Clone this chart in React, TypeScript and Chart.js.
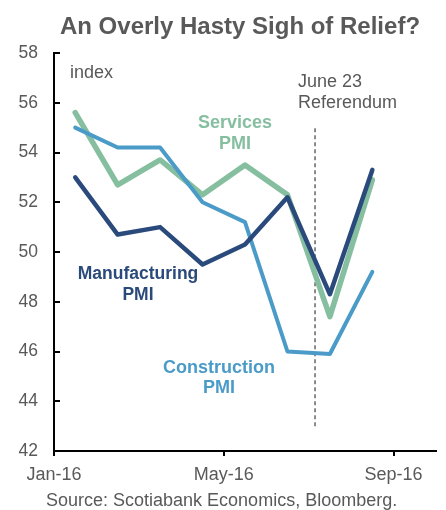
import React, { useEffect, useRef } from 'react';
import { Chart, registerables } from 'chart.js';

Chart.register(...registerables);

// ---- Data ----
const months = ['Jan-16', 'Feb-16', 'Mar-16', 'Apr-16', 'May-16', 'Jun-16', 'Jul-16', 'Aug-16'];
const manufacturing = [53.0, 50.7, 51.0, 49.5, 50.3, 52.2, 48.3, 53.3];
const services = [55.6, 52.7, 53.7, 52.3, 53.5, 52.3, 47.4, 52.9];
const construction = [55.0, 54.2, 54.2, 52.0, 51.2, 46.0, 45.9, 49.2];
const xTickLabels = ['Jan-16', 'May-16', 'Sep-16'];
const xTickMonths = [0, 4, 8]; // months since Jan-16
const yMin = 42;
const yMax = 58;
const yStep = 2;
const xMax = 9;
const referendumX = [6.15, 6.15];
const referendumY = [43, 55.1];

const FONT = "'Liberation Sans', Arial, Helvetica, sans-serif";
const GREY = '#595959';
const NAVY = '#2b4a7c';
const GREEN = '#86bfa0';
const BLUE = '#4a9bc8';

const toPoints = (vals: number[]) => vals.map((v, i) => ({ x: i + 0.5, y: v }));

const textPlugin = {
  id: 'customText',
  beforeDatasetsDraw(chart: any) {
    const ctx = chart.ctx;
    const y = chart.scales.y;
    const x = chart.scales.x;
    ctx.save();
    ctx.strokeStyle = '#000';
    ctx.lineWidth = 2;
    y.ticks.forEach((t: any) => {
      const py = Math.round(y.getPixelForValue(t.value));
      ctx.beginPath();
      ctx.moveTo(x.left, py);
      ctx.lineTo(x.left + 6, py);
      ctx.stroke();
    });
    ctx.restore();
  },
  afterDraw(chart: any) {
    const ctx = chart.ctx;
    ctx.save();
    ctx.textBaseline = 'middle';
    // Title
    ctx.fillStyle = GREY;
    ctx.textAlign = 'center';
    ctx.font = `bold 24px ${FONT}`;
    ctx.fillText('An Overly Hasty Sigh of Relief?', 240, 27);
    // index
    ctx.textAlign = 'left';
    ctx.font = `18px ${FONT}`;
    ctx.fillText('index', 70, 73);
    // June 23 Referendum
    ctx.fillText('June 23', 298, 82);
    ctx.fillText('Referendum', 298, 103);
    // Source
    ctx.font = `18px ${FONT}`;
    ctx.fillText('Source: Scotiabank Economics, Bloomberg.', 46, 501);
    // Series labels
    ctx.textAlign = 'center';
    ctx.font = `bold 18px ${FONT}`;
    ctx.fillStyle = GREEN;
    ctx.fillText('Services', 235, 123);
    ctx.fillText('PMI', 235, 144);
    ctx.fillStyle = NAVY;
    ctx.font = `bold 17.5px ${FONT}`;
    ctx.fillText('Manufacturing', 138, 274);
    ctx.fillText('PMI', 138, 295);
    ctx.fillStyle = BLUE;
    ctx.font = `bold 18px ${FONT}`;
    ctx.fillText('Construction', 219, 368);
    ctx.fillText('PMI', 219, 388);
    ctx.restore();
  },
};

export default function App() {
  const canvasRef = useRef<HTMLCanvasElement | null>(null);

  useEffect(() => {
    document.body.style.margin = '0';
    const canvas = canvasRef.current;
    if (!canvas) return;
    const lineCommon = {
      pointRadius: 0,
      fill: false,
      tension: 0,
      borderJoinStyle: 'round' as const,
      borderCapStyle: 'round' as const,
    };
    const chart = new Chart(canvas, {
      type: 'line',
      data: {
        labels: months,
        datasets: [
          {
            label: 'Manufacturing PMI',
            data: toPoints(manufacturing),
            borderColor: NAVY,
            borderWidth: 4.5,
            ...lineCommon,
          },
          {
            label: 'Construction PMI',
            data: toPoints(construction),
            borderColor: BLUE,
            borderWidth: 4,
            ...lineCommon,
          },
          {
            label: 'Services PMI',
            data: toPoints(services),
            borderColor: GREEN,
            borderWidth: 5.5,
            ...lineCommon,
          },
          {
            label: 'Referendum',
            data: referendumX.map((xv, i) => ({ x: xv, y: referendumY[i] })),
            borderColor: '#666666',
            borderWidth: 1.5,
            borderDash: [4, 3],
            pointRadius: 0,
            fill: false,
          },
        ],
      },
      options: {
        responsive: false,
        animation: false,
        devicePixelRatio: 1,
        layout: { padding: { top: 53, right: 10, bottom: 0, left: 0 } },
        plugins: {
          legend: { display: false },
          title: { display: false },
          tooltip: { enabled: false },
        },
        scales: {
          x: {
            type: 'linear',
            min: 0,
            max: xMax,
            afterBuildTicks: (scale: any) => {
              scale.ticks = xTickMonths.map((v) => ({ value: v }));
            },
            afterFit: (scale: any) => {
              scale.height = 59;
            },
            ticks: {
              callback: (value: any) => {
                const idx = xTickMonths.indexOf(Number(value));
                return idx >= 0 ? xTickLabels[idx] : '';
              },
              color: GREY,
              font: { family: FONT, size: 18 },
              padding: 8,
              maxRotation: 0,
              autoSkip: false,
            },
            grid: {
              display: true,
              drawOnChartArea: false,
              drawTicks: true,
              tickLength: 5,
              color: '#000',
              lineWidth: 2,
            },
            border: { display: true, color: '#000', width: 2 },
          },
          y: {
            type: 'linear',
            min: yMin,
            max: yMax,
            afterFit: (scale: any) => {
              scale.width = 54;
            },
            ticks: {
              stepSize: yStep,
              color: GREY,
              font: { family: FONT, size: 17.5 },
              padding: 16,
            },
            grid: { display: false, drawTicks: false },
            border: { display: true, color: '#000', width: 2 },
          },
        },
      },
      plugins: [textPlugin],
    });
    return () => chart.destroy();
  }, []);

  return (
    <div style={{ width: 446, height: 510, background: '#fff' }}>
      <canvas ref={canvasRef} width={446} height={510} />
    </div>
  );
}
